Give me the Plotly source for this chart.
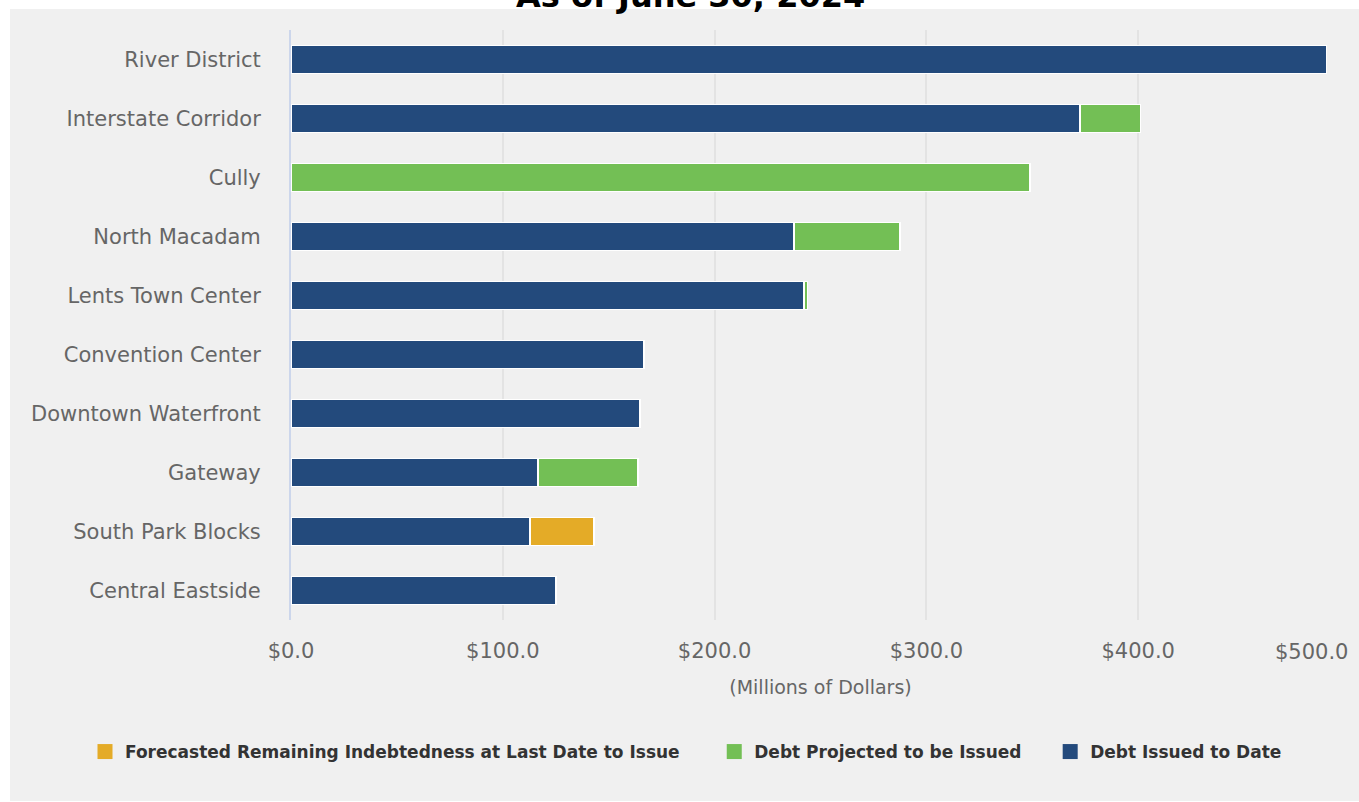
import plotly.graph_objects as go

categories = ["River District", "Interstate Corridor", "Cully", "North Macadam",
              "Lents Town Center", "Convention Center", "Downtown Waterfront",
              "Gateway", "South Park Blocks", "Central Eastside"]
debt_issued = [488.9, 372.5, 0, 237.5, 242.2, 166.7, 164.8, 116.6, 112.8, 125.1]
debt_projected = [0, 28.4, 348.9, 50.0, 1.6, 0, 0, 47.2, 0, 0]
forecast_remaining = [0, 0, 0, 0, 0, 0, 0, 0, 30.3, 0]
tick_vals = [0, 100, 200, 300, 400, 500]
tick_text = ["$0.0", "$100.0", "$200.0", "$300.0", "$400.0", ""]
last_tick_label = "$500.0"

BLUE = "#234a7c"
GREEN = "#73bf55"
ORANGE = "#e4ab27"
FONT = "DejaVu Sans"
W, H = 1359, 802
L, R, T, B = 291, 9, 30, 182
PW, PH = W - L - R, H - T - B

NB = "\u00a0"
series = [("Debt Issued to Date", debt_issued, BLUE, ""),
          ("Debt Projected to be Issued", debt_projected, GREEN, NB * 4),
          ("Forecasted Remaining Indebtedness at Last Date to Issue", forecast_remaining, ORANGE, NB * 5)]

fig = go.Figure()
for name, vals, col, pad in series:
    fig.add_trace(go.Bar(
        y=categories, x=vals, name=name, orientation="h", showlegend=False,
        legendgroup=name,
        marker=dict(color=col, line=dict(color="white", width=1.2)),
        hovertemplate="%{y}: $%{x:.1f}<extra>" + name + "</extra>",
    ))
for name, vals, col, pad in series:
    fig.add_trace(go.Scatter(
        x=[None], y=[None], mode="markers", name=name + pad, legendgroup=name,
        marker=dict(symbol="square", size=15, color=col), showlegend=True,
    ))

fig.update_layout(
    width=W, height=H,
    barmode="stack", bargap=0.52,
    paper_bgcolor="white", plot_bgcolor="#f0f0f0",
    margin=dict(l=L, r=R, t=T, b=B, autoexpand=False),
    font=dict(family=FONT, color="#666666", size=20),
    shapes=[dict(type="rect", xref="paper", yref="paper", layer="below",
                 x0=-(L - 10) / PW, x1=1.0 + R / PW, y0=-(B - 1) / PH, y1=1 + (T - 9) / PH,
                 fillcolor="#f0f0f0", line=dict(width=0))],
    annotations=[
        dict(text="<b>As of June 30, 2024</b>", xref="paper", yref="paper",
             x=(690 - L) / PW, y=1 + T / PH, yanchor="bottom", yshift=-17,
             showarrow=False, font=dict(family=FONT, size=32, color="#000000")),
        dict(text=last_tick_label, xref="x", yref="paper", x=tick_vals[-1], y=0,
             xanchor="right", yanchor="middle", xshift=0, yshift=-32,
             showarrow=False, font=dict(family=FONT, size=21, color="#666666")),
    ],
    xaxis=dict(range=[0, 500], tickvals=tick_vals, ticktext=tick_text,
               showgrid=True, gridcolor="#e3e3e3", gridwidth=1.5, zeroline=False,
               showline=False, ticks="", ticklabelstandoff=16,
               tickfont=dict(size=21, color="#666666"),
               title=dict(text="(Millions of Dollars)", font=dict(size=19, color="#666666"),
                          standoff=18)),
    yaxis=dict(categoryorder="array", categoryarray=categories, autorange="reversed",
               showgrid=False, zeroline=False, showline=True, linecolor="#ccd6eb",
               linewidth=2, ticks="", ticklabelstandoff=24,
               tickfont=dict(size=21, color="#666666")),
    legend=dict(orientation="h", traceorder="reversed",
                x=(85 - L) / PW, xanchor="left", y=-(752 - (H - B)) / PH, yanchor="middle",
                bgcolor="rgba(0,0,0,0)",
                font=dict(size=17, color="#333333", family=FONT, weight="bold"),
                itemwidth=30),
)

fig.write_html("out.html")
